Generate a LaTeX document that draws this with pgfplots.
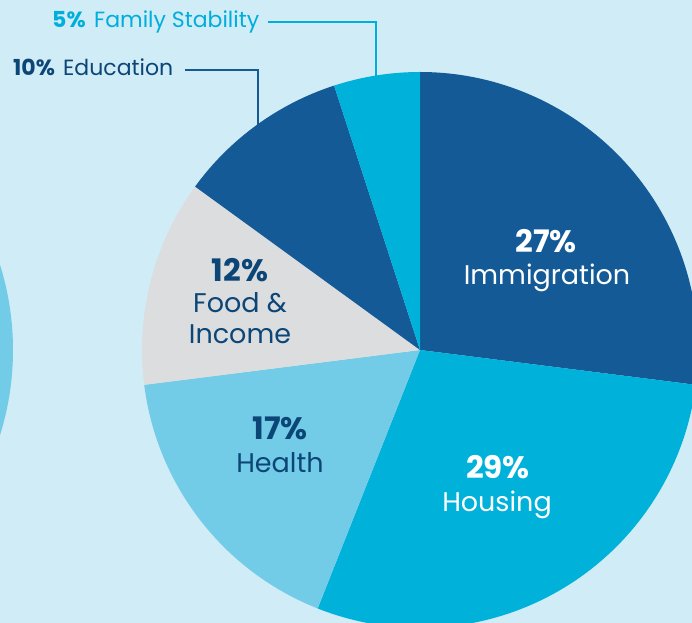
\documentclass[border=0pt]{standalone}
\usepackage{fontspec}
\setmainfont{Poppins}
\usepackage{pgfplots}
\usepackage{pgfplotstable}
\pgfplotsset{compat=1.18}
\definecolor{bg}{HTML}{D0ECF7}
\definecolor{slice0}{HTML}{135A96}
\definecolor{slice1}{HTML}{00B1DA}
\definecolor{slice2}{HTML}{72CCE7}
\definecolor{slice3}{HTML}{DCDDDF}
\definecolor{slice4}{HTML}{135A96}
\definecolor{slice5}{HTML}{00B1DA}
\definecolor{navy}{HTML}{0C4677}
\definecolor{cyantext}{HTML}{00AEDB}
\pgfplotstableread{
label pct
Immigration 27
Housing 29
Health 17
Food 12
Education 10
Family 5
}\piedata
\newcommand{\outerfont}{\fontsize{22bp}{26bp}\selectfont}
\newcommand{\innerfont}{\fontsize{27bp}{32bp}\selectfont}
\newcommand{\pctfont}{\fontsize{31bp}{36bp}\selectfont\bfseries}
\begin{document}
\begin{tikzpicture}
\fill[bg] (0,0) rectangle (692bp,623bp);
\begin{axis}[
  at={(0,0)}, anchor=south west,
  width=692bp, height=623bp, scale only axis,
  xmin=0, xmax=692, ymin=0, ymax=623,
  hide axis, clip=true,
]
% partial neighbouring circle at left edge
\fill[slice2] (axis cs:-271,273) circle[radius=284bp];
\def\cum{0}
\pgfplotsforeachungrouped \i in {0,...,5}{%
  \pgfplotstablegetelem{\i}{pct}\of\piedata
  \let\p\pgfplotsretval
  \pgfmathsetmacro\a{90-3.6*\cum}%
  \pgfmathsetmacro\b{90-3.6*(\cum+\p)}%
  \pgfmathsetmacro\cum{\cum+\p}%
  \edef\temp{\noexpand\fill[slice\i] (axis cs:420,273) -- ++(\a:278bp) arc[start angle=\a, end angle=\b, radius=278bp] -- cycle;}%
  \temp
}
% connector lines
\draw[cyantext, line width=1.6bp] (axis cs:268,601) -- (axis cs:376,601) -- (axis cs:376,546);
\draw[slice0, line width=1.6bp] (axis cs:185,553) -- (axis cs:258,553) -- (axis cs:258,490);
% outer labels
\node[anchor=base west, inner sep=0, text=cyantext, font=\outerfont\bfseries] at (axis cs:52,595) {5\%};
\node[anchor=base west, inner sep=0, text=cyantext, font=\outerfont] at (axis cs:94,595) {Family Stability};
\node[anchor=base west, inner sep=0, text=navy, font=\outerfont\bfseries] at (axis cs:13,547) {10\%};
\node[anchor=base west, inner sep=0, text=navy, font=\outerfont] at (axis cs:63,547) {Education};
% inner labels
\node[anchor=base, inner sep=0, text=white, font=\pctfont] at (axis cs:546,370) {27\%};
\node[anchor=base, inner sep=0, text=white, font=\innerfont] at (axis cs:547,338) {Immigration};
\node[anchor=base, inner sep=0, text=white, font=\pctfont] at (axis cs:498,144) {29\%};
\node[anchor=base, inner sep=0, text=white, font=\innerfont] at (axis cs:497,111) {Housing};
\node[anchor=base, inner sep=0, text=navy, font=\pctfont] at (axis cs:280,183) {17\%};
\node[anchor=base, inner sep=0, text=navy, font=\innerfont] at (axis cs:280,150) {Health};
\node[anchor=base, inner sep=0, text=navy, font=\pctfont] at (axis cs:240,341) {12\%};
\node[anchor=base, inner sep=0, text=navy, font=\innerfont] at (axis cs:240,310) {Food \&};
\node[anchor=base, inner sep=0, text=navy, font=\innerfont] at (axis cs:240,279) {Income};
\end{axis}
\pgfresetboundingbox
\path (0,0) rectangle (692bp,623bp);
\end{tikzpicture}
\end{document}
